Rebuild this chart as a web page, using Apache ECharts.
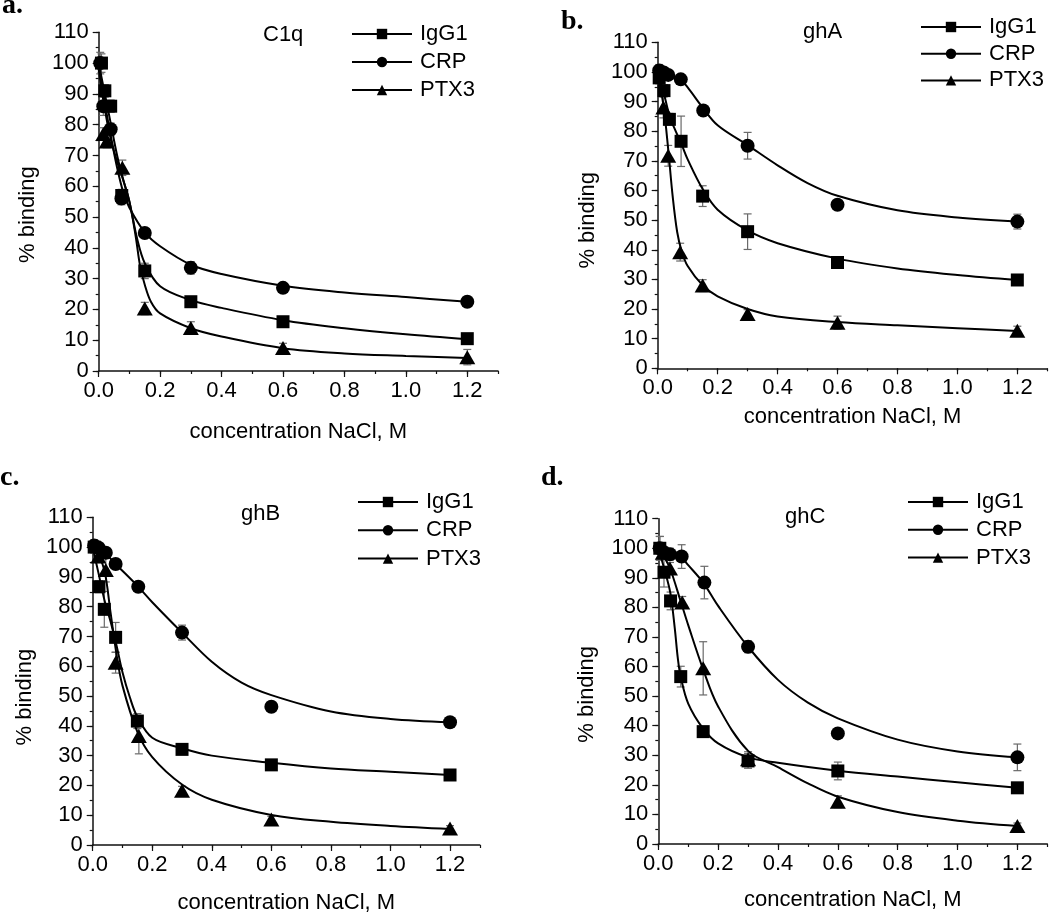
<!DOCTYPE html>
<html><head><meta charset="utf-8">
<script src="https://cdn.jsdelivr.net/npm/echarts@6/dist/echarts.min.js"></script>
<style>html,body{margin:0;padding:0;background:#fff}#c{width:1050px;height:915px}</style>
</head><body><div id="c"></div>
<script>
// ---------- DATA ----------
const seriesNames = ['IgG1', 'CRP', 'PTX3'];
const panelTitles = ['C1q', 'ghA', 'ghB', 'ghC'];
const panelLetters = ['a.', 'b.', 'c.', 'd.'];
const xAxisName = 'concentration NaCl, M';
const yAxisName = '% binding';
const xTickLabels = ['0.0', '0.2', '0.4', '0.6', '0.8', '1.0', '1.2'];
const yTickLabels = ['0', '10', '20', '30', '40', '50', '60', '70', '80', '90', '100', '110'];

// measured points: [x, y, error]
const aIgG1 = [[0.009,100,3],[0.02,91,2],[0.039,86,2],[0.075,57,2],[0.15,32.5,2.5],[0.3,22.5,1.5],[0.6,16,1],[1.2,10.5,1]];
const aCRP  = [[0.005,100,3.5],[0.015,86,3],[0.039,78.5,2],[0.074,56,2],[0.15,44.8,1],[0.3,33.5,2],[0.6,27,1],[1.2,22.5,1]];
const aPTX3 = [[0.015,77,2],[0.026,74.5,2],[0.077,66,2.5],[0.15,20.3,2],[0.3,14,2],[0.6,7.5,1.5],[1.2,4.5,2.5]];

const bIgG1 = [[0.005,98,2],[0.021,93.7,2],[0.039,84,2],[0.078,76.6,8.5],[0.15,58.1,3.5],[0.3,46.1,6],[0.6,35.7,1],[1.2,29.8,1]];
const bCRP  = [[0.005,100.5,2],[0.02,99.8,1],[0.035,99,1],[0.077,97.5,1],[0.152,87,1],[0.3,75.1,4.5],[0.6,55.2,1],[1.2,49.5,2.5]];
const bPTX3 = [[0.019,88,3.5],[0.035,71.7,3.5],[0.075,39.2,3],[0.15,27.9,2],[0.3,18.3,1.5],[0.6,15.4,2.2],[1.2,12.7,1.5]];

const cIgG1 = [[0.005,100,2],[0.021,86.7,2],[0.039,79.1,6],[0.077,69.7,5],[0.15,41.6,2.5],[0.3,32.1,1],[0.6,26.9,1.5],[1.2,23.5,1]];
const cCRP  = [[0.005,100.5,2],[0.02,99.8,1],[0.044,98.1,1],[0.077,94.3,1],[0.153,86.7,1],[0.3,71.3,2.5],[0.6,46.4,1.5],[1.2,41.2,1]];
const cPTX3 = [[0.019,96.8,2],[0.044,92.3,4],[0.077,61.2,3.5],[0.155,36.6,6],[0.3,18.2,1.5],[0.6,8.6,1],[1.2,5.5,1]];

const dIgG1 = [[0.005,100,4],[0.019,91.9,5],[0.041,82.2,3],[0.075,56.6,3.5],[0.15,38,1],[0.3,28.1,2.5],[0.6,24.7,3],[1.2,19,1]];
const dCRP  = [[0.005,100,4],[0.02,98.5,2],[0.039,98,2],[0.078,97.2,4],[0.154,88.4,5.5],[0.3,66.7,2],[0.6,37.4,1],[1.2,29.3,4.5]];
const dPTX3 = [[0.015,98.5,2],[0.039,93.2,2],[0.08,81.7,2],[0.15,59.4,9],[0.3,28.7,2.5],[0.6,14.3,2],[1.2,6.1,1]];

// fitted curves: [x, y]
const aIgG1Fit = [[0,100],[0.02,90],[0.04,80],[0.06,70],[0.08,62],[0.1,55],[0.125,43],[0.15,35],[0.2,27.5],[0.3,23],[0.4,20.5],[0.6,16.5],[0.8,13.9],[1.0,11.9],[1.2,10.3]];
const aCRPFit  = [[0,100],[0.02,87],[0.04,76],[0.06,66],[0.08,58],[0.1,53],[0.15,45],[0.2,40.5],[0.3,34.5],[0.4,31.5],[0.6,27.7],[0.8,25.5],[1.0,24],[1.2,22.5]];
const aPTX3Fit = [[0,98],[0.02,85],[0.04,75],[0.06,68],[0.08,62],[0.1,55],[0.12,44],[0.135,34],[0.15,28],[0.17,22.5],[0.2,18.7],[0.3,13.9],[0.4,11.2],[0.6,7.4],[0.8,5.7],[1.0,4.9],[1.2,4.2]];

const bIgG1Fit = [[0,100],[0.02,93],[0.04,85],[0.06,80],[0.08,75.5],[0.1,70.5],[0.15,60.5],[0.2,53.5],[0.3,46.5],[0.4,42.2],[0.6,37],[0.8,33.7],[1.0,31.5],[1.2,29.8]];
const bCRPFit  = [[0,100.5],[0.04,99],[0.08,97],[0.1,94.8],[0.15,88],[0.2,82],[0.3,75.3],[0.4,68.5],[0.5,62.5],[0.6,58.2],[0.8,53.3],[1.0,50.9],[1.2,49.5]];
const bPTX3Fit = [[0,100],[0.02,88],[0.035,74],[0.05,58],[0.065,46],[0.08,39.5],[0.1,34.5],[0.15,28],[0.2,24.3],[0.3,20],[0.4,17.5],[0.6,15.6],[0.8,14.5],[1.0,13.5],[1.2,12.6]];

const cIgG1Fit = [[0,100],[0.02,91],[0.04,82],[0.06,75],[0.08,67],[0.1,58],[0.125,49.5],[0.15,43],[0.2,36],[0.3,32.5],[0.4,30],[0.6,27.6],[0.8,25.7],[1.0,24.6],[1.2,23.5]];
const cCRPFit  = [[0,100.5],[0.04,98],[0.08,94],[0.15,87],[0.2,81.5],[0.3,71.3],[0.4,61.5],[0.5,54.5],[0.6,50.3],[0.8,44.8],[1.0,42.3],[1.2,41.2]];
const cPTX3Fit = [[0,99],[0.02,97],[0.04,92],[0.06,78],[0.08,64],[0.1,53.5],[0.15,38],[0.2,29.5],[0.3,20.3],[0.4,15.2],[0.6,10.1],[0.8,7.8],[1.0,6.4],[1.2,5.4]];

const dIgG1Fit = [[0,100],[0.02,93],[0.04,85],[0.055,73],[0.065,63],[0.075,56.5],[0.1,47.5],[0.15,39],[0.2,34],[0.3,29.3],[0.4,27.5],[0.6,24.8],[0.8,22.8],[1.0,20.9],[1.2,19]];
const dCRPFit  = [[0,100],[0.04,98.5],[0.08,96.5],[0.1,94.3],[0.15,88.4],[0.2,80.5],[0.3,66.7],[0.4,55.5],[0.5,47.8],[0.6,42.5],[0.8,35.3],[1.0,31.3],[1.2,29.3]];
const dPTX3Fit = [[0,100],[0.02,97],[0.04,93],[0.075,82],[0.1,74],[0.15,59],[0.2,46.5],[0.3,31.5],[0.4,26],[0.5,20.5],[0.6,16],[0.8,10.8],[1.0,7.9],[1.2,6.1]];

const panelPoints = [[aIgG1,aCRP,aPTX3],[bIgG1,bCRP,bPTX3],[cIgG1,cCRP,cPTX3],[dIgG1,dCRP,dPTX3]];
const panelFits = [[aIgG1Fit,aCRPFit,aPTX3Fit],[bIgG1Fit,bCRPFit,bPTX3Fit],[cIgG1Fit,cCRPFit,cPTX3Fit],[dIgG1Fit,dCRPFit,dPTX3Fit]];

// ---------- LAYOUT ----------
const FONT = "'Liberation Sans', Arial, sans-serif";
const grids = [
  {left: 98.7, top: 32.3, width: 399.3, height: 338.7},
  {left: 657.7, top: 42.3, width: 389.6, height: 326},
  {left: 92.7, top: 517.3, width: 387.1, height: 327.7},
  {left: 658.3, top: 518.7, width: 389, height: 325.3}
];
const xNameGap = [50, 38, 47, 45];
const yNameGap = [60, 59, 57, 60];
const yNameShift = [26, 30, 32, 26];
const titlePos = [[263, 24], [803, 21], [241, 503], [785, 506]];
const letterPos = [[2, -8], [561, 8], [0, 464], [541, 464]];
const legendPos = [[351, 22], [920, 15], [357, 490], [907, 490]];
const legendGap = [4, 2.7, 4.3, 3.8];
const symbols = ['rect', 'circle', 'triangle'];
const symbolSizes = [13, 14, [16, 14]];

const xAxes = [], yAxes = [], series = [], titles = [], legends = [];
const axisLineStyle = {color: '#111', width: 1.5};

grids.forEach((g, i) => {
  // minor-tick axes (carry the data)
  xAxes.push({gridIndex: i, type: 'value', position: 'bottom', min: 0, max: 1.3, interval: 0.1,
    axisLine: {show: true, onZero: false, lineStyle: axisLineStyle},
    axisTick: {show: true, inside: false, length: 3, lineStyle: {color: '#111', width: 1.2}},
    axisLabel: {show: false}, splitLine: {show: false},
    name: xAxisName, nameLocation: 'middle', nameGap: xNameGap[i],
    nameTextStyle: {fontFamily: FONT, fontSize: 22, color: '#000'}});
  xAxes.push({gridIndex: i, type: 'value', position: 'bottom', min: 0, max: 1.3, interval: 0.2,
    axisLine: {show: false, onZero: false},
    axisTick: {show: true, inside: false, length: 6, lineStyle: {color: '#111', width: 1.2}},
    axisLabel: {show: true, showMaxLabel: false, margin: 9, fontFamily: FONT, fontSize: 22, color: '#000',
      formatter: v => { const k = Math.round(v / 0.2); return Math.abs(v - k * 0.2) < 1e-6 && xTickLabels[k] !== undefined ? xTickLabels[k] : ''; }},
    splitLine: {show: false}});
  yAxes.push({gridIndex: i, type: 'value', position: 'left', min: 0, max: 110, interval: 5,
    axisLine: {show: true, onZero: false, lineStyle: axisLineStyle},
    axisTick: {show: true, inside: false, length: 3, lineStyle: {color: '#111', width: 1.2}},
    axisLabel: {show: false}, splitLine: {show: false},
    name: yAxisName, nameLocation: 'middle', nameGap: yNameGap[i], nameRotate: 90,
    nameTextStyle: {fontFamily: FONT, fontSize: 22, color: '#000', padding: [0, yNameShift[i], 0, 0]}});
  yAxes.push({gridIndex: i, type: 'value', position: 'left', min: 0, max: 110, interval: 10,
    axisLine: {show: false, onZero: false},
    axisTick: {show: true, inside: false, length: 6, lineStyle: {color: '#111', width: 1.2}},
    axisLabel: {show: true, margin: 10, fontFamily: FONT, fontSize: 22, color: '#000',
      formatter: v => { const k = Math.round(v / 10); return yTickLabels[k] !== undefined ? yTickLabels[k] : ''; }},
    splitLine: {show: false}});

  seriesNames.forEach((nm, s) => {
    // fitted curve (also provides the legend icon)
    series.push({type: 'line', name: nm, xAxisIndex: 2 * i, yAxisIndex: 2 * i,
      data: panelFits[i][s], smooth: 0.35, showSymbol: false, symbol: symbols[s], symbolSize: 12,
      lineStyle: {color: '#000', width: 2}, itemStyle: {color: '#000'}, z: 2, silent: true});
    // error bars
    series.push({type: 'custom', name: nm + ' err', xAxisIndex: 2 * i, yAxisIndex: 2 * i,
      data: panelPoints[i][s], encode: {x: 0, y: 1}, z: 1, silent: true,
      renderItem: (params, api) => {
        const x = api.value(0), y = api.value(1), e = api.value(2);
        const t = api.coord([x, y + e]), b = api.coord([x, y - e]);
        const hw = 4;
        const st = {stroke: '#6a6a6a', lineWidth: 1.2};
        return {type: 'group', children: [
          {type: 'line', shape: {x1: t[0], y1: t[1], x2: b[0], y2: b[1]}, style: st},
          {type: 'line', shape: {x1: t[0] - hw, y1: t[1], x2: t[0] + hw, y2: t[1]}, style: st},
          {type: 'line', shape: {x1: b[0] - hw, y1: b[1], x2: b[0] + hw, y2: b[1]}, style: st}
        ]};
      }});
    // points
    series.push({type: 'scatter', name: nm + ' data', xAxisIndex: 2 * i, yAxisIndex: 2 * i,
      data: panelPoints[i][s].map(p => [p[0], p[1]]), symbol: symbols[s], symbolSize: symbolSizes[s],
      itemStyle: {color: '#000', opacity: 1}, z: 3, silent: true});
  });

  titles.push({text: panelTitles[i], left: titlePos[i][0], top: titlePos[i][1], padding: 0,
    textStyle: {fontFamily: FONT, fontSize: 22, fontWeight: 'normal', color: '#000'}});
  titles.push({text: panelLetters[i], left: letterPos[i][0], top: letterPos[i][1], padding: 0,
    textStyle: {fontFamily: "'Liberation Serif', 'Times New Roman', serif", fontSize: 28, fontWeight: 'bold', color: '#000'}});
  legends.push({data: seriesNames, orient: 'vertical', left: legendPos[i][0], top: legendPos[i][1], padding: 0,
    itemWidth: 60, itemHeight: 13, itemGap: legendGap[i], selectedMode: false,
    textStyle: {fontFamily: FONT, fontSize: 22, color: '#000', lineHeight: 24, padding: [0, 0, 0, 3]}});
});

const chart = echarts.init(document.getElementById('c'), null, {renderer: 'canvas'});
chart.setOption({
  animation: false,
  backgroundColor: '#fff',
  grid: grids.map(g => Object.assign({containLabel: false}, g)),
  xAxis: xAxes, yAxis: yAxes, series: series, title: titles, legend: legends
});
</script></body></html>
